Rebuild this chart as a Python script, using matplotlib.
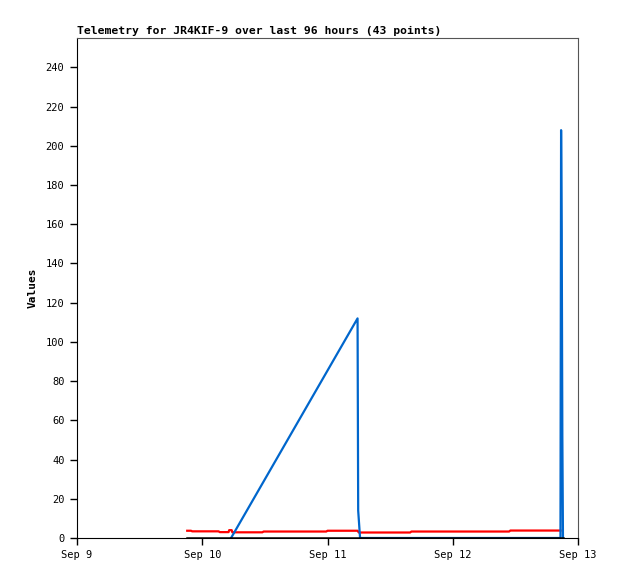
import datetime as dt
import matplotlib
matplotlib.use("Agg")
import matplotlib.pyplot as plt

# telemetry, time given as days after Sep 9 00:00
red_t = [0.88, 0.91, 0.92, 1.13, 1.14, 1.21, 1.215, 1.235, 1.24, 1.48, 1.49,
         1.99, 2.0, 2.24, 2.25, 2.66, 2.67, 3.45, 3.46, 3.86]
red_v = [3.7, 3.7, 3.4, 3.4, 3.0, 3.0, 4.0, 4.0, 2.9, 2.9, 3.3,
         3.3, 3.7, 3.7, 2.8, 2.8, 3.3, 3.3, 3.8, 3.8]

blue_t = [1.23, 2.24, 2.245, 2.26, 3.86, 3.865, 3.87, 3.875, 3.88]
blue_v = [0, 112, 14, 0, 0, 208, 156, 52, 0]

black_t = [0.88, 3.88]
black_v = [0, 0]

xticks = ["Sep 9", "Sep 10", "Sep 11", "Sep 12", "Sep 13"]
start = dt.datetime(2023, 9, 9)

def to_dates(days):
    return [start + dt.timedelta(days=d) for d in days]

plt.rcParams['font.family'] = ['DejaVu Sans Mono']

fig = plt.figure(figsize=(6.18, 5.79), dpi=100)
ax = fig.add_axes([77/618, 41/579, 501/618, 500/579])

ax.plot(to_dates(red_t), red_v, color="#ff0000", lw=1.6)
ax.plot(to_dates(blue_t), blue_v, color="#0066cc", lw=1.6)
ax.plot(to_dates(black_t), black_v, color="#000000", lw=1.8)

ax.set_xlim(start, start + dt.timedelta(days=4))
ax.set_ylim(0, 255)
ax.set_yticks(range(0, 241, 20))
ax.set_xticks(to_dates([0, 1, 2, 3, 4]))
ax.set_xticklabels(xticks)
ax.tick_params(labelsize=7.5, length=5, width=1, direction='out', pad=4)

for s in ["top", "right"]:
    ax.spines[s].set_color("#555555")
for s in ["left", "bottom"]:
    ax.spines[s].set_color("black")

ax.set_title("Telemetry for JR4KIF-9 over last 96 hours (43 points)",
             loc="left", fontsize=8.2, fontweight="bold", pad=3)
ax.set_ylabel("Values", fontsize=8, fontweight="bold", labelpad=6)

fig.savefig("out.png", dpi=100)
